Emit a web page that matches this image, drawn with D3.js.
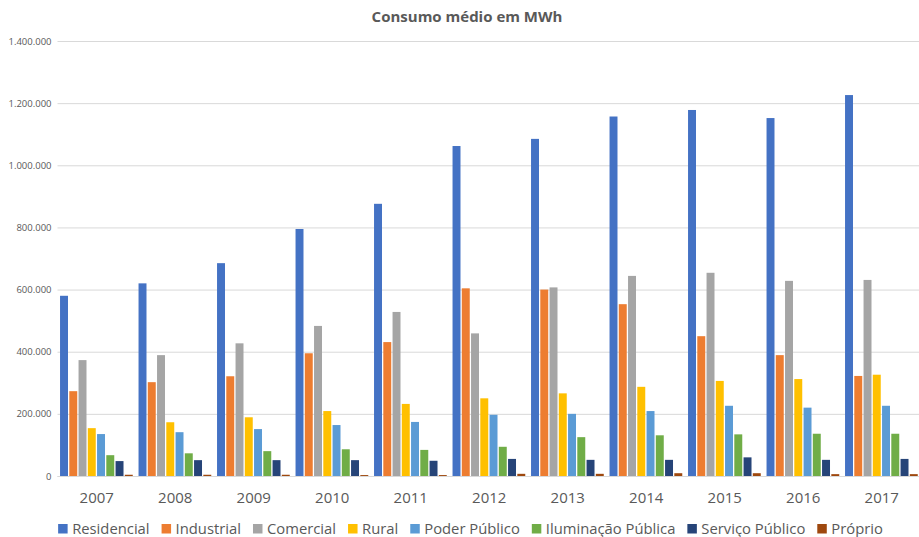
<!DOCTYPE html>
<html><head><meta charset="utf-8">
<script src="https://cdn.jsdelivr.net/npm/d3@7"></script>
<style>
html,body{margin:0;padding:0;background:#fff;}
svg{display:block;font-family:"Open Sans",sans-serif;}
</style></head>
<body><svg id="c" width="919" height="537"></svg>
<script>
const years = ["2007","2008","2009","2010","2011","2012","2013","2014","2015","2016","2017"];
const seriesNames = ["Residencial","Industrial","Comercial","Rural","Poder Público","Iluminação Pública","Serviço Público","Próprio"];
const residencial = [580000,620000,685000,795000,876000,1062000,1085000,1157000,1178000,1152000,1226000];
const industrial  = [273000,302000,321000,395000,431000,604000,600000,553000,450000,389000,322000];
const comercial   = [373000,389000,427000,483000,528000,459000,607000,644000,654000,628000,631000];
const rural       = [154000,173000,189000,209000,232000,250000,266000,287000,306000,312000,326000];
const poderPublico= [135000,141000,151000,164000,174000,197000,200000,209000,226000,220000,226000];
const iluminacao  = [67000,73000,80000,86000,84000,94000,125000,131000,134000,136000,136000];
const servico     = [48000,51000,51000,51000,49000,55000,52000,52000,60000,52000,55000];
const proprio     = [4000,4000,4000,3000,3000,7000,7000,9000,9000,6000,6000];
const yTicks = [0,200000,400000,600000,800000,1000000,1200000,1400000];
const colors = ["#4472C4","#ED7D31","#A5A5A5","#FFC000","#5B9BD5","#70AD47","#264478","#9E480E"];

const allSeries = [residencial,industrial,comercial,rural,poderPublico,iluminacao,servico,proprio];
const svg = d3.select("#c");
const pLeft = 57.5, pRight = 921, pTop = 41, pBottom = 476;

const y = d3.scaleLinear().domain([0,1400000]).range([pBottom, pTop]);
const x0 = d3.scaleBand().domain(years).range([pLeft,pRight]).paddingInner(0.057).paddingOuter(0.0285);
const x1 = d3.scaleBand().domain(seriesNames).range([0, x0.bandwidth()]);

const fmt = v => d3.format(",")(v).replace(/,/g,".");

// gridlines
const yAxis = d3.axisLeft(y).tickValues(yTicks).tickSize(-(919-pLeft)).tickFormat(fmt);
const gy = svg.append("g").attr("transform",`translate(${pLeft},0)`).call(yAxis);
gy.select(".domain").remove();
gy.selectAll(".tick line").attr("stroke","#d9d9d9").attr("stroke-width",1);
gy.selectAll(".tick text").attr("x",-6).attr("fill","#595959").style("font-size","9.5px").style("font-family","'Open Sans',sans-serif");

// bars
const groups = svg.append("g").selectAll("g").data(years).join("g")
  .attr("transform", d => `translate(${x0(d)},0)`);
groups.selectAll("rect").data((d,i) => seriesNames.map((s,j) => ({s, v: allSeries[j][i], c: colors[j]})))
  .join("rect")
  .attr("x", d => x1(d.s) + 0.3)
  .attr("width", x1.bandwidth() - 1.3)
  .attr("y", d => y(d.v))
  .attr("height", d => pBottom - y(d.v))
  .attr("fill", d => d.c);

// x axis
const xAxis = d3.axisBottom(x0).tickSize(0).tickPadding(0);
const gx = svg.append("g").attr("transform",`translate(0,${pBottom})`).call(xAxis);
gx.select(".domain").attr("stroke","#d9d9d9").attr("d", `M${pLeft},0.5H919`);
gx.selectAll(".tick text").attr("y",22).attr("dy","0.32em").attr("fill","#595959")
  .style("font-size","15px").style("font-family","'Open Sans',sans-serif");

// title
svg.append("text").attr("x",467).attr("y",22).attr("text-anchor","middle")
  .attr("fill","#595959").style("font-size","15px").style("font-weight","bold")
  .text("Consumo médio em MWh");

// legend
const lg = svg.append("g");
let cx = 0;
seriesNames.forEach((s,j) => {
  const g = lg.append("g").attr("transform",`translate(${cx},0)`);
  g.append("rect").attr("x",0).attr("y",-10).attr("width",9.5).attr("height",9.5).attr("fill",colors[j]);
  const t = g.append("text").attr("x",14).attr("y",0).attr("fill","#595959").style("font-size","14.8px").text(s);
  const w = t.node().getComputedTextLength();
  cx += 14 + w + 12;
});
const totalW = cx - 12;
lg.attr("transform",`translate(${470.5 - totalW/2},534)`);
</script>
</body></html>
